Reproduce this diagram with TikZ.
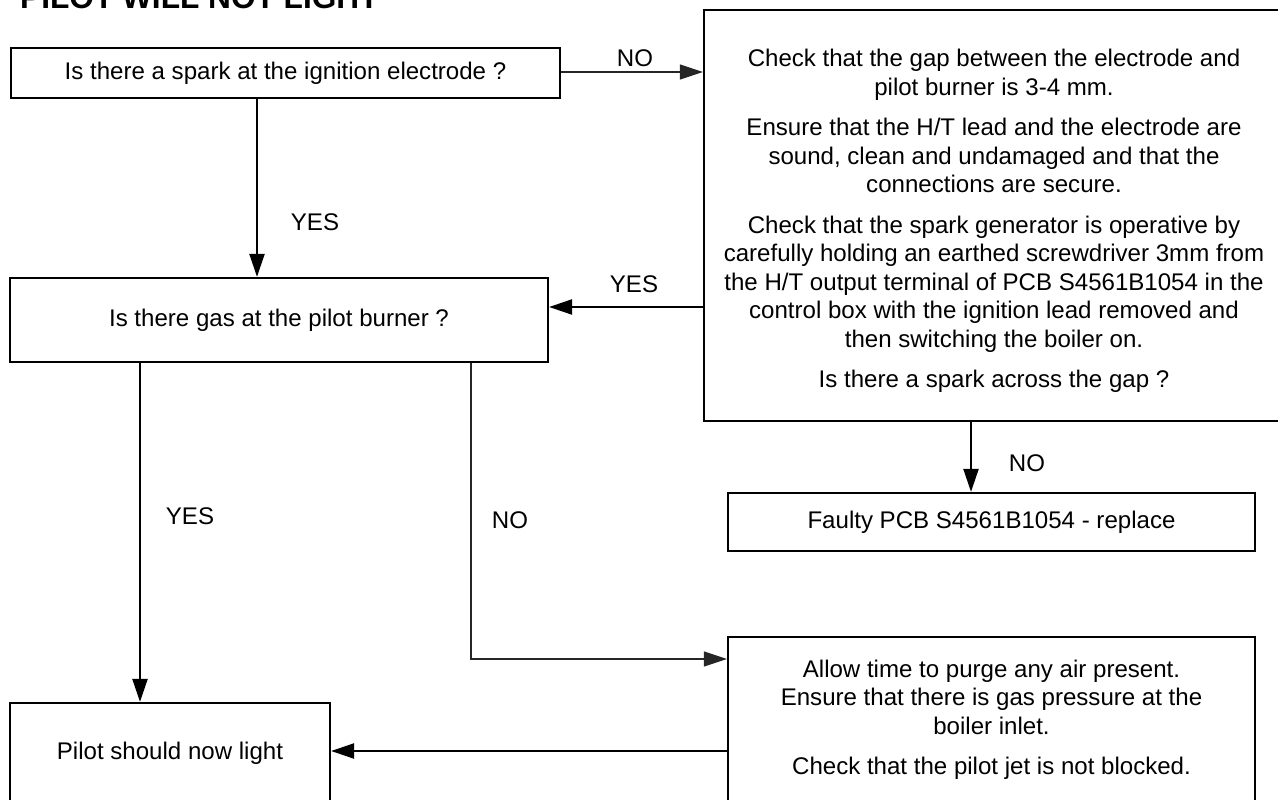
\documentclass[tikz,border=0pt]{standalone}
\usepackage{fontspec}
\setmainfont{Liberation Sans}
\usetikzlibrary{arrows.meta}

\begin{document}
\begin{tikzpicture}[x=0.02cm, y=-0.02cm, font=\fontsize{13.7}{16.2}\selectfont, >={Triangle[length=0.46cm,width=0.3cm]}]
	% --- Styles ---
	\tikzset{
		box/.style={draw, line width=1.3pt, align=center, inner sep=0pt},
		flow/.style={->, line width=1.3pt},
		thinflow/.style={->, line width=0.6pt, draw=black!85},
		answer/.style={inner sep=0pt},
	}
	\useasboundingbox (0,0) rectangle (1278,800);
	% --- Title (cut at the top edge) ---
	\node[anchor=base west, font=\fontsize{18}{20}\selectfont\bfseries] (title) at (14,9) {PILOT WILL NOT LIGHT};
	% --- Boxes ---
	\node[box, minimum width=10.98cm, minimum height=1.0cm] (qspark) at (285.5,73) {Is there a spark at the ignition electrode ?};
	\node[box, minimum width=11.6cm, minimum height=8.22cm] (check) at (994,215.5) {};
	\node[align=center, inner sep=0pt, yshift=-0.11cm] (checktext) at (check.center)
		{Check that the gap between the electrode and\\ pilot burner is 3-4 mm.\\[6.9pt]
		 Ensure that the H/T lead and the electrode are\\ sound, clean and undamaged and that the\\ connections are secure.\\[6.9pt]
		 Check that the spark generator is operative by\\ carefully holding an earthed screwdriver 3mm from\\ the H/T output terminal of PCB S4561B1054 in the\\ control box with the ignition lead removed and\\ then switching the boiler on.\\[6.9pt]
		 Is there a spark across the gap ?};
	\node[box, minimum width=10.76cm, minimum height=1.68cm] (qgas) at (279,320) {Is there gas at the pilot burner ?};
	\node[box, minimum width=10.54cm, minimum height=1.16cm] (faulty) at (991.5,522) {Faulty PCB S4561B1054 - replace};
	\node[box, minimum width=10.54cm, minimum height=3.32cm] (allow) at (991.5,720)
		{Allow time to purge any air present.\\ Ensure that there is gas pressure at the\\ boiler inlet.\\[6.9pt]
		 Check that the pilot jet is not blocked.};
	\node[box, minimum width=6.4cm, minimum height=2.0cm] (pilot) at (170,753) {Pilot should now light};
	% --- Where the connectors run ---
	\coordinate (sparkx) at (257,0);
	\coordinate (noy) at (0,72);
	\coordinate (yesy) at (0,307);
	\coordinate (faultx) at (971,0);
	\coordinate (pilotx) at (140,0);
	\coordinate (nox) at (471,0);
	\coordinate (allowy) at (0,659);
	\coordinate (backy) at (0,751);
	% --- Connectors ---
	\draw[thinflow] (qspark.east |- noy) -- (check.west |- noy);
	\draw[flow] (qspark.south -| sparkx) -- (qgas.north -| sparkx);
	\draw[flow] (check.west |- yesy) -- (qgas.east |- yesy);
	\draw[flow] (check.south -| faultx) -- (faulty.north -| faultx);
	\draw[flow] (qgas.south -| pilotx) -- (pilot.north -| pilotx);
	\draw[thinflow] (qgas.south -| nox) |- (allow.west |- allowy);
	\draw[flow] (allow.west |- backy) -- (pilot.east |- backy);
	% --- Answers ---
	\foreach \x/\y/\name/\txt in {635/58/noone/NO, 315/222/yesone/YES, 634/284/yestwo/YES, 1027/463/notwo/NO, 190/516/yesthree/YES, 510/520/nothree/NO}
		\node[answer] (\name) at (\x,\y) {\txt};
\end{tikzpicture}
\end{document}
